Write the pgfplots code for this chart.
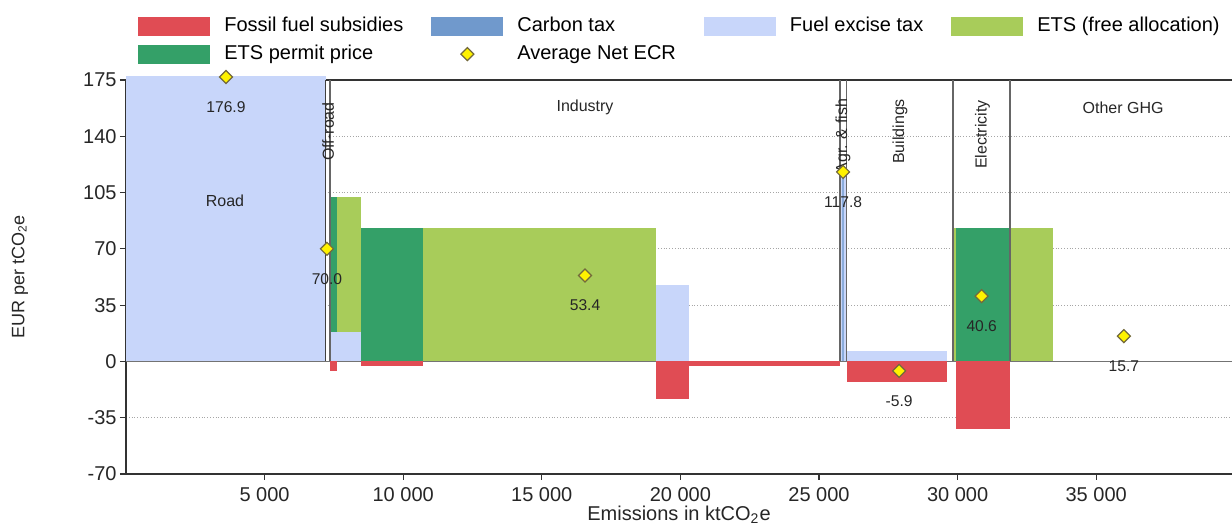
\documentclass[border=0pt]{standalone}
\usepackage{fontspec}
\setmainfont{Liberation Sans}
\usepackage{pgfplots}
\pgfplotsset{compat=1.18}
\definecolor{ffs}{RGB}{224,76,84}
\definecolor{ctax}{RGB}{112,153,204}
\definecolor{fet}{RGB}{200,214,250}
\definecolor{etsfree}{RGB}{168,204,90}
\definecolor{etsp}{RGB}{52,160,104}
\definecolor{dmd}{RGB}{115,105,60}
\newcommand{\rect}[5]{\addplot[fill=#1,draw=none,forget plot] coordinates {(#2,#4) (#3,#4) (#3,#5) (#2,#5)} -- cycle;}
\newcommand{\secline}[1]{\addplot[black!60,line width=0.7pt,forget plot] coordinates {(#1,0) (#1,175)};}
\begin{document}
\begin{tikzpicture}
\begin{axis}[
  width=553pt, height=197pt, scale only axis,
  xmin=0, xmax=39900, ymin=-70, ymax=175,
  clip=false,
  axis x line*=bottom, axis y line*=left,
  axis line style={black!80, line width=0.8pt},
  xtick={5000,10000,15000,20000,25000,30000,35000},
  ytick={-70,-35,0,35,70,105,140,175},
  scaled x ticks=false,
  tick align=outside,
  major tick length=3pt,
  tick style={black!80, line width=0.6pt},
  ymajorgrids, grid style={densely dotted, black!35, line width=0.6pt},
  /pgf/number format/assume math mode=true,
  xticklabel style={/pgf/number format/1000 sep={\ }},
  tick label style={font=\fontsize{10}{12}\selectfont, text=black!85},
  yticklabel style={inner xsep=1.5pt},
  xlabel={Emissions in ktCO\textsubscript{2}e},
  ylabel={EUR per tCO\textsubscript{2}e},
  every axis x label/.style={at={(axis description cs:0.5,0)}, anchor=center, yshift=-20.5pt, font=\fontsize{10}{12}\selectfont, text=black!85},
  every axis y label/.style={at={(axis description cs:-0.0958,0.5)}, rotate=90, anchor=center, font=\fontsize{9}{11}\selectfont, text=black!85},
  legend columns=4,
  legend cell align=left,
  legend style={draw=none, fill=none, at={(0,1)}, anchor=south west, xshift=6pt, yshift=6pt, inner sep=0pt,
    font=\fontsize{10}{12}\selectfont,
    nodes={inner ysep=2pt, inner xsep=3pt, text height=7.5pt, text depth=2pt},
    /tikz/every even column/.append style={column sep=11pt},
    /tikz/every odd column/.append style={column sep=4pt},
    /tikz/column 6/.append style={column sep=5pt},
    row sep=0.5pt},
  legend image code/.code={\fill[#1,draw=none] (0pt,-4.75pt) rectangle (36pt,4.75pt);},
]
\addlegendimage{fill=ffs}\addlegendentry{Fossil fuel subsidies}
\addlegendimage{fill=ctax}\addlegendentry{Carbon tax}
\addlegendimage{fill=fet}\addlegendentry{Fuel excise tax}
\addlegendimage{fill=etsfree}\addlegendentry{ETS (free allocation)}
\addlegendimage{fill=etsp}\addlegendentry{ETS permit price}
\addlegendimage{legend image code/.code={\draw[only marks, mark=square*, mark size=2.3pt, mark options={rotate=45, fill=yellow, draw=dmd, line width=0.6pt}] plot coordinates {(18pt,0pt)};}}\addlegendentry{Average Net ECR}

\coordinate (sw) at (rel axis cs:0,0);
\coordinate (ne) at (rel axis cs:1,1);

% zero line and top line
\addplot[black!55, line width=0.6pt, forget plot] coordinates {(0,0) (39900,0)};
\addplot[black!80, line width=0.8pt, forget plot] coordinates {(7204,175) (39900,175)};

% Road
\rect{fet}{0}{7204}{0}{177.5}
% Industry
\rect{fet}{7359}{8478}{0}{18}
\rect{etsp}{7359}{7601}{18}{102}
\rect{etsfree}{7601}{8478}{18}{102}
\rect{ffs}{7359}{7601}{-6.2}{0}
\rect{etsp}{8478}{10725}{0}{83}
\rect{ffs}{8478}{10725}{-2.6}{0}
\rect{etsfree}{10725}{19120}{0}{83}
\rect{fet}{19120}{20321}{0}{47.6}
\rect{ffs}{19120}{20321}{-23.4}{0}
\rect{ffs}{20321}{25758}{-2.7}{0}
% Agr. & fish
\rect{fet}{25758}{25999}{0}{117.8}
\rect{ctax!70!fet}{25840}{25920}{0}{117.8}
% Buildings
\rect{fet}{25999}{29618}{0}{6.2}
\rect{ffs}{25999}{29618}{-13.1}{0}
% Electricity
\rect{etsfree}{29834}{29942}{0}{83}
\rect{etsp}{29942}{31890}{0}{83}
\rect{ffs}{29942}{31890}{-42.1}{0}
% Other GHG
\rect{etsfree}{31890}{33452}{0}{83}

% sector separators
\addplot[black!75,line width=0.7pt,forget plot] coordinates {(7204,0) (7204,175)};
\secline{7359}
\secline{25758}
\secline{25999}
\secline{29834}
\secline{31890}

% Average Net ECR
\addplot[only marks, mark=square*, mark size=2.3pt,
  mark options={rotate=45, fill=yellow, draw=dmd, line width=0.6pt},
  nodes near coords, point meta=explicit symbolic,
  nodes near coords style={anchor=center, yshift=-15pt, font=\fontsize{7.8}{9}\selectfont, text=black!85},
  forget plot] table[meta=lab] {
x y lab
3607 176.9 176.9
7250 70.0 70.0
16560 53.4 53.4
25870 117.8 117.8
27890 -5.9 -5.9
30870 40.6 40.6
36000 15.7 15.7
};

% sector labels
\begin{scope}[font=\fontsize{8}{9.6}\selectfont, text=black!85]
\node at (axis cs:3570,100) {Road};
\node[rotate=90] at (axis cs:7290,143) {Off-road};
\node at (axis cs:16560,158) {Industry};
\node[rotate=90] at (axis cs:25870,140) {Agr. \& fish};
\node[rotate=90] at (axis cs:27920,143) {Buildings};
\node[rotate=90] at (axis cs:30900,141) {Electricity};
\node at (axis cs:35970,158) {Other GHG};
\end{scope}
\end{axis}
\pgfresetboundingbox
\path ([xshift=-63pt,yshift=-26.5pt]sw) rectangle ([yshift=40pt]ne);
\end{tikzpicture}
\end{document}
